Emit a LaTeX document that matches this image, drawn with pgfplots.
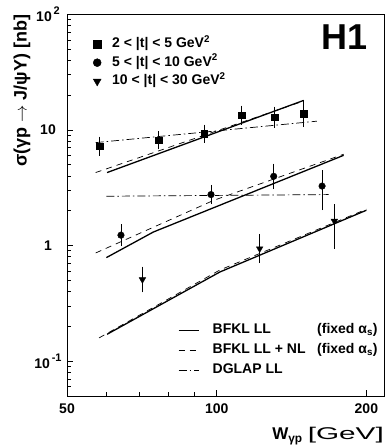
\documentclass[border=0pt]{standalone}
\usepackage{fontspec}
\setmainfont{Liberation Sans}
\usepackage{graphicx}
\usepackage{pgfplots}
\pgfplotsset{compat=1.18}
\begin{document}
\begin{tikzpicture}[font=\bfseries]
\path[use as bounding box] (-67pt,-51pt) rectangle (320pt,396pt);
\begin{axis}[
  at={(0pt,0pt)}, anchor=south west,
  scale only axis, width=317pt, height=381.7pt,
  xmode=log, ymode=log,
  xmin=50, xmax=217, ymin=0.05, ymax=100,
  axis line style={line width=1pt},
  tick pos=left, tick align=inside,
  major tick length=6pt, minor tick length=4pt,
  tick style={black, line width=0.8pt},
  xtick={50,100,200}, xticklabels={50,100,200},
  minor xtick={60,70,80,90},
  ytick={0.1,1,10,100},
  yticklabels={10\raisebox{0.5em}{\fontsize{11}{11}\selectfont\,-1},1,10,10\raisebox{0.5em}{\fontsize{11}{11}\selectfont\,2}},
  minor ytick={0.06,0.07,0.08,0.09,0.2,0.3,0.4,0.5,0.6,0.7,0.8,0.9,2,3,4,5,6,7,8,9,20,30,40,50,60,70,80,90},
  tick label style={font=\fontsize{14}{14}\selectfont\bfseries},
  yticklabel style={anchor=center, xshift=-19pt},
  xticklabel style={anchor=north, yshift=-4pt},
  ylabel={\fontsize{18}{18}\selectfont\bfseries σ(γp $\rightarrow$ J/ψY) [nb]},
  ylabel style={at={(axis description cs:-0.142,1)}, anchor=east, inner sep=0pt},
  xlabel={\fontsize{17}{17}\selectfont\bfseries W\textsubscript{γp}\hspace{5pt}\scalebox{1.75}[1]{\mdseries [GeV]}},
  xlabel style={at={(axis description cs:1,0)}, anchor=north east, yshift=-31pt, inner sep=0pt},
  legend style={at={(rel axis cs:0.082,0.945)}, anchor=north west, draw=none, fill=none, inner sep=0pt,
     font=\fontsize{14}{14}\selectfont\bfseries, row sep=1.7pt,
     nodes={inner sep=2pt, text height=10pt, text depth=3pt}},
  legend cell align=left,
  error bars/error bar style={line width=0.9pt},
  error bars/error mark options={line width=0.9pt, mark size=3pt},
]
\addlegendimage{legend image code/.code={\path[draw=none,fill=none] (0pt,0pt) -- (17pt,0pt); \draw[only marks, mark=square*, mark size=4pt] plot coordinates {(4pt,0pt)};}}
\addlegendentry{2 < |t| < 5 GeV\textsuperscript{2}}
\addlegendimage{legend image code/.code={\path[draw=none,fill=none] (0pt,0pt) -- (17pt,0pt); \draw[only marks, mark=*, mark size=4pt] plot coordinates {(4pt,0pt)};}}
\addlegendentry{5 < |t| < 10 GeV\textsuperscript{2}}
\addlegendimage{legend image code/.code={\path[draw=none,fill=none] (0pt,0pt) -- (17pt,0pt); \draw[only marks, mark=triangle*, mark size=4.5pt, mark options={rotate=180}] plot coordinates {(4pt,0pt)};}}
\addlegendentry{10 < |t| < 30 GeV\textsuperscript{2}}

% theory curves
\addplot[no marks, line width=1.3pt] coordinates {(60.2,4.28) (149.6,18.0)};
\addplot[no marks, line width=0.7pt, dash pattern=on 6pt off 5pt] coordinates {(57.1,4.28) (149.6,17.8)};
\addplot[no marks, line width=0.7pt, dash pattern=on 8pt off 3pt on 1.5pt off 3pt] coordinates {(57.1,7.77) (159,11.9)};

\addplot[no marks, line width=1.3pt] coordinates {(60,0.787) (74.6,1.31) (180,6.03)};
\addplot[no marks, line width=0.7pt, dash pattern=on 6pt off 5pt] coordinates {(57.1,0.863) (98.6,2.46) (180,6.16)};
\addplot[no marks, line width=0.7pt, dash pattern=on 8pt off 3pt on 1.5pt off 3pt] coordinates {(60,2.67) (168,2.76)};

\addplot[no marks, line width=1.3pt] coordinates {(60.2,0.171) (101.5,0.591) (200,2.02)};
\addplot[no marks, line width=0.7pt, dash pattern=on 6pt off 5pt] coordinates {(58,0.159) (101.5,0.615) (200,2.06)};

% data
\addplot[only marks, mark=square*, mark size=3.3pt, error bars/.cd, y dir=both, y explicit] coordinates {
(58.1,7.26) += (0,1.00) -= (0,0.88)
(76.4,8.13) += (0,1.03) -= (0,0.92)
(94.4,9.29) += (0,1.18) -= (0,1.05)
(112.4,13.4) += (0,1.92) -= (0,1.68)
(130.7,12.9) += (0,2.08) -= (0,1.79)
(149.6,13.8) += (0,3.2) -= (0,2.6)
};
\addplot[only marks, mark=*, mark size=3.3pt, error bars/.cd, y dir=both, y explicit] coordinates {
(64.2,1.23) += (0,0.21) -= (0,0.18)
(97.4,2.76) += (0,0.39) -= (0,0.34)
(130.2,3.97) += (0,0.85) -= (0,0.70)
(162.9,3.27) += (0,0.96) -= (0,1.12)
};
\addplot[only marks, mark=triangle*, mark size=3.8pt, mark options={rotate=180}, error bars/.cd, y dir=both, y explicit] coordinates {
(70.9,0.508) += (0,0.11) -= (0,0.09)
(122,0.94) += (0,0.25) -= (0,0.19)
(172.4,1.63) += (0,0.52) -= (0,0.63)
};

\node[anchor=north east, inner sep=0pt, font=\fontsize{36}{36}\selectfont\bfseries] at (rel axis cs:0.9495,0.972) {H1};
\end{axis}

\begin{axis}[
  at={(0pt,0pt)}, anchor=south west,
  scale only axis, width=317pt, height=381.7pt,
  hide axis, xmin=0, xmax=1, ymin=0, ymax=1,
  legend style={at={(rel axis cs:0.35,0.195)}, anchor=north west, draw=none, fill=none, inner sep=0pt,
     font=\fontsize{14}{14}\selectfont\bfseries, row sep=3pt,
     nodes={inner sep=2pt, text height=10pt, text depth=3pt}},
  legend cell align=left,
  legend image code/.code={\path[draw=none,fill=none] (0pt,0pt) -- (32pt,0pt); \draw[#1] (0pt,0pt) -- (20pt,0pt);},
]
\addlegendimage{line width=1.0pt}
\addlegendentry{\makebox[165pt][l]{BFKL LL\hfill(fixed α\textsubscript{s})}}
\addlegendimage{line width=0.7pt, dash pattern=on 6pt off 5pt}
\addlegendentry{\makebox[165pt][l]{BFKL LL + NL\hfill(fixed α\textsubscript{s})}}
\addlegendimage{line width=0.7pt, dash pattern=on 8pt off 3pt on 1.5pt off 3pt}
\addlegendentry{\makebox[165pt][l]{DGLAP LL}}
\end{axis}
\end{tikzpicture}
\end{document}
